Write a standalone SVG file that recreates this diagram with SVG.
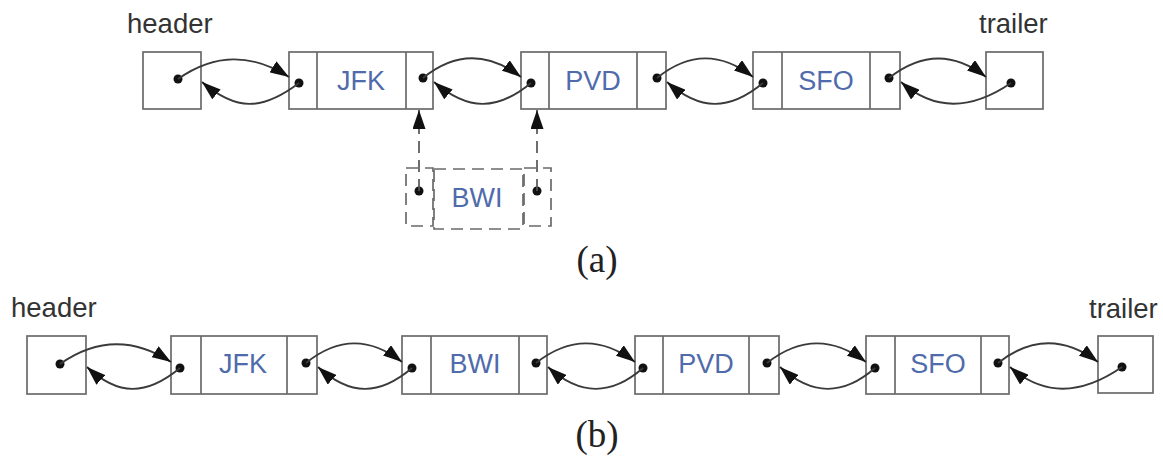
<svg xmlns="http://www.w3.org/2000/svg" width="1163" height="460" viewBox="0 0 1163 460">
<style>
.box{fill:none;stroke:#6a6a6a;stroke-width:1.7}
.dbox{fill:none;stroke:#6a6a6a;stroke-width:1.7;stroke-dasharray:12 7}
.lbl{font-family:"Liberation Sans",Arial,sans-serif;font-size:27px;fill:#4f6bab;text-anchor:middle}
.name{font-family:"Liberation Sans",Arial,sans-serif;font-size:27.5px;fill:#333}
.cap{font-family:"Liberation Serif","Times New Roman",serif;font-size:37px;fill:#222;text-anchor:middle}
.dot{fill:#111}
.link{fill:none;stroke:#3a3a3a;stroke-width:1.9;marker-end:url(#ah)}
.dlink{fill:none;stroke:#555;stroke-width:1.7;stroke-dasharray:12 7;marker-end:url(#ah)}
</style>
<defs>
<marker id="ah" markerUnits="userSpaceOnUse" markerWidth="20" markerHeight="13" refX="19" refY="6.5" orient="auto">
<path d="M0,0 L19,6.5 L0,13 z" fill="#111"/>
</marker>
</defs>
<rect width="1163" height="460" fill="#fff"/>

<!-- (a) -->
<g id="a-header">
<text class="name" x="127" y="33">header</text>
<rect class="box" x="143" y="52" width="58" height="57"/>
<circle class="dot" cx="178" cy="79" r="4.5"/>
</g>
<g id="a-jfk">
<rect class="box" x="289" y="52" width="144" height="57"/>
<line class="box" x1="317" y1="52" x2="317" y2="109"/>
<line class="box" x1="406" y1="52" x2="406" y2="109"/>
<text class="lbl" x="361" y="90">JFK</text>
<circle class="dot" cx="299" cy="83" r="4.5"/>
<circle class="dot" cx="423" cy="78" r="4.5"/>
</g>
<g id="a-pvd">
<rect class="box" x="521" y="52" width="145" height="57"/>
<line class="box" x1="549" y1="52" x2="549" y2="109"/>
<line class="box" x1="637" y1="52" x2="637" y2="109"/>
<text class="lbl" x="593" y="90">PVD</text>
<circle class="dot" cx="531" cy="83" r="4.5"/>
<circle class="dot" cx="657" cy="78" r="4.5"/>
</g>
<g id="a-sfo">
<rect class="box" x="753" y="52" width="147" height="57"/>
<line class="box" x1="782" y1="52" x2="782" y2="109"/>
<line class="box" x1="870" y1="52" x2="870" y2="109"/>
<text class="lbl" x="826" y="90">SFO</text>
<circle class="dot" cx="763" cy="83" r="4.5"/>
<circle class="dot" cx="889" cy="78" r="4.5"/>
</g>
<g id="a-trailer">
<text class="name" x="979" y="33">trailer</text>
<rect class="box" x="986" y="52" width="57" height="57"/>
<circle class="dot" cx="1011" cy="83" r="4.5"/>
</g>
<g id="a-bwi">
<rect class="dbox" x="406" y="168" width="27" height="58"/>
<rect class="dbox" x="434" y="169" width="89" height="60"/>
<rect class="dbox" x="524" y="168" width="27" height="58"/>
<text class="lbl" x="477" y="207">BWI</text>
<circle class="dot" cx="419" cy="191" r="4.5"/>
<circle class="dot" cx="537" cy="191" r="4.5"/>
</g>
<text class="cap" x="597" y="272">(a)</text>

<!-- (b) -->
<g id="b-header">
<text class="name" x="11" y="317">header</text>
<rect class="box" x="27" y="336" width="59" height="58"/>
<circle class="dot" cx="60" cy="364" r="4.5"/>
</g>
<g id="b-jfk">
<rect class="box" x="171" y="336" width="146" height="58"/>
<line class="box" x1="201" y1="336" x2="201" y2="394"/>
<line class="box" x1="287" y1="336" x2="287" y2="394"/>
<text class="lbl" x="243" y="373">JFK</text>
<circle class="dot" cx="180" cy="368" r="4.5"/>
<circle class="dot" cx="306" cy="363" r="4.5"/>
</g>
<g id="b-bwi">
<rect class="box" x="402" y="336" width="145" height="58"/>
<line class="box" x1="431" y1="336" x2="431" y2="394"/>
<line class="box" x1="519" y1="336" x2="519" y2="394"/>
<text class="lbl" x="475" y="373">BWI</text>
<circle class="dot" cx="412" cy="368" r="4.5"/>
<circle class="dot" cx="536" cy="363" r="4.5"/>
</g>
<g id="b-pvd">
<rect class="box" x="635" y="336" width="144" height="58"/>
<line class="box" x1="663" y1="336" x2="663" y2="394"/>
<line class="box" x1="749" y1="336" x2="749" y2="394"/>
<text class="lbl" x="706" y="373">PVD</text>
<circle class="dot" cx="643" cy="368" r="4.5"/>
<circle class="dot" cx="767" cy="363" r="4.5"/>
</g>
<g id="b-sfo">
<rect class="box" x="866" y="336" width="143" height="58"/>
<line class="box" x1="895" y1="336" x2="895" y2="394"/>
<line class="box" x1="981" y1="336" x2="981" y2="394"/>
<text class="lbl" x="938" y="373">SFO</text>
<circle class="dot" cx="875" cy="368" r="4.5"/>
<circle class="dot" cx="998" cy="363" r="4.5"/>
</g>
<g id="b-trailer">
<text class="name" x="1089" y="318">trailer</text>
<rect class="box" x="1098" y="336" width="55" height="57"/>
<circle class="dot" cx="1122" cy="367" r="4.5"/>
</g>
<text class="cap" x="597" y="447">(b)</text>

<g id="connectors">
<!-- (a) forward -->
<path class="link" d="M178,79 C215,53 251,53 289,77"/>
<path class="link" d="M423,78 C455,52 488,52 521,77"/>
<path class="link" d="M657,78 C689,52 721,52 753,77"/>
<path class="link" d="M889,78 C922,52 954,52 986,77"/>
<!-- (a) backward -->
<path class="link" d="M299,83 C262,111 236,111 202,82"/>
<path class="link" d="M531,83 C497,111 468,111 434,82"/>
<path class="link" d="M763,83 C729,111 700,111 667,82"/>
<path class="link" d="M1011,83 C970,111 934,111 901,82"/>
<!-- (a) dashed -->
<path class="dlink" d="M419,191 L419,110"/>
<path class="dlink" d="M537,191 L537,110"/>
<!-- (b) forward -->
<path class="link" d="M60,364 C97,338 134,338 171,362"/>
<path class="link" d="M306,363 C338,337 370,337 402,362"/>
<path class="link" d="M536,363 C569,337 602,337 635,362"/>
<path class="link" d="M767,363 C800,337 833,337 866,362"/>
<path class="link" d="M998,363 C1031,337 1065,337 1098,362"/>
<!-- (b) backward -->
<path class="link" d="M180,368 C146,396 118,396 87,367"/>
<path class="link" d="M412,368 C379,396 350,396 318,367"/>
<path class="link" d="M643,368 C611,396 580,396 548,367"/>
<path class="link" d="M875,368 C843,396 812,396 780,367"/>
<path class="link" d="M1122,367 C1080,396 1043,396 1010,367"/>
</g>
</svg>
